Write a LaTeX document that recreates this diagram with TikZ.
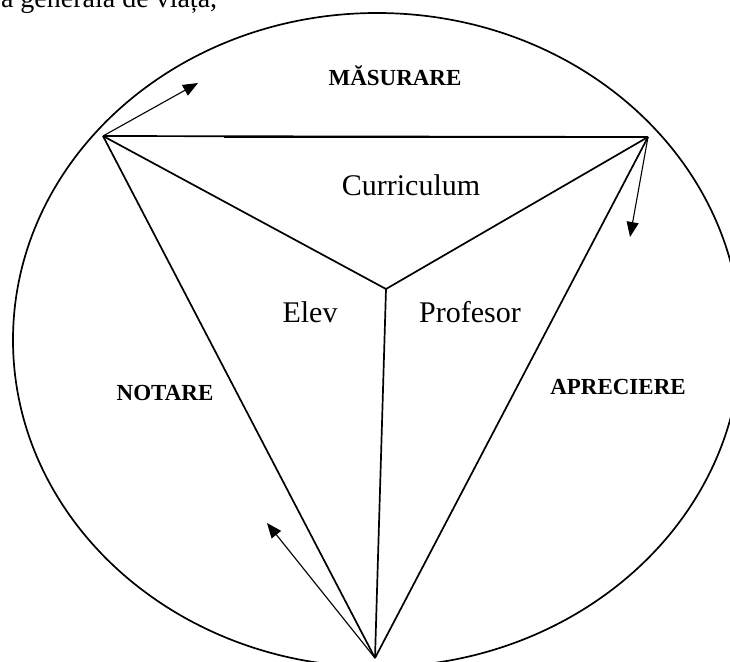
\documentclass[tikz,border=0pt]{standalone}
\usepackage{fontspec}
\setmainfont{Liberation Serif}
\usetikzlibrary{arrows.meta,positioning,calc}

\begin{document}
\begin{tikzpicture}[x=1pt,y=-1pt,-,>={Triangle[length=15pt,width=12pt]},line width=1.7pt,
    every node/.style={font=\fontsize{30}{36}\selectfont,inner sep=0pt},
    label/.style={font=\fontsize{23}{28}\selectfont\bfseries},
    pointer/.style={->,line width=1.1pt}]
      \useasboundingbox (0,0) rectangle (730,661);
      \clip (0,0) rectangle (730,661);

      % corners of the triangle and its centre
      \coordinate (tl) at (103,136);
      \coordinate (tr) at (648,137);
      \coordinate (bot) at (375,658);
      \coordinate (mid) at (386,289);
      \coordinate (seam) at (224,137);

      % ends of the arrows
      \coordinate (upA) at (198,83);
      \coordinate (upB) at (630,237);
      \coordinate (upC) at (267,523);

      \draw (377,340) ellipse [x radius=364, y radius=327];

      \node[anchor=base east,font=\fontsize{28}{34}\selectfont] (head) at (218,8) {a generală de viață,};

      \node (curr) at (411,185) {Curriculum};
      \node (elev) at (310,312) {Elev};
      \node (prof) at (470,312) {Profesor};

      \node[label] (mas) at (395,76) {MĂSURARE};
      \node[label] (not) at (165,393) {NOTARE};
      \node[label] (apr) at (618,387) {APRECIERE};

      \path
      (tl) edge (tr)
      edge (mid)
      edge (bot)

      (tr) edge (mid)
      edge (bot)

      (mid) edge (bot)

      (seam) edge [line width=2.8pt] (tr);

      \path
      (tl) edge [pointer] (upA)
      (tr) edge [pointer] (upB)
      (bot) edge [pointer] (upC);

\end{tikzpicture}
\end{document}
